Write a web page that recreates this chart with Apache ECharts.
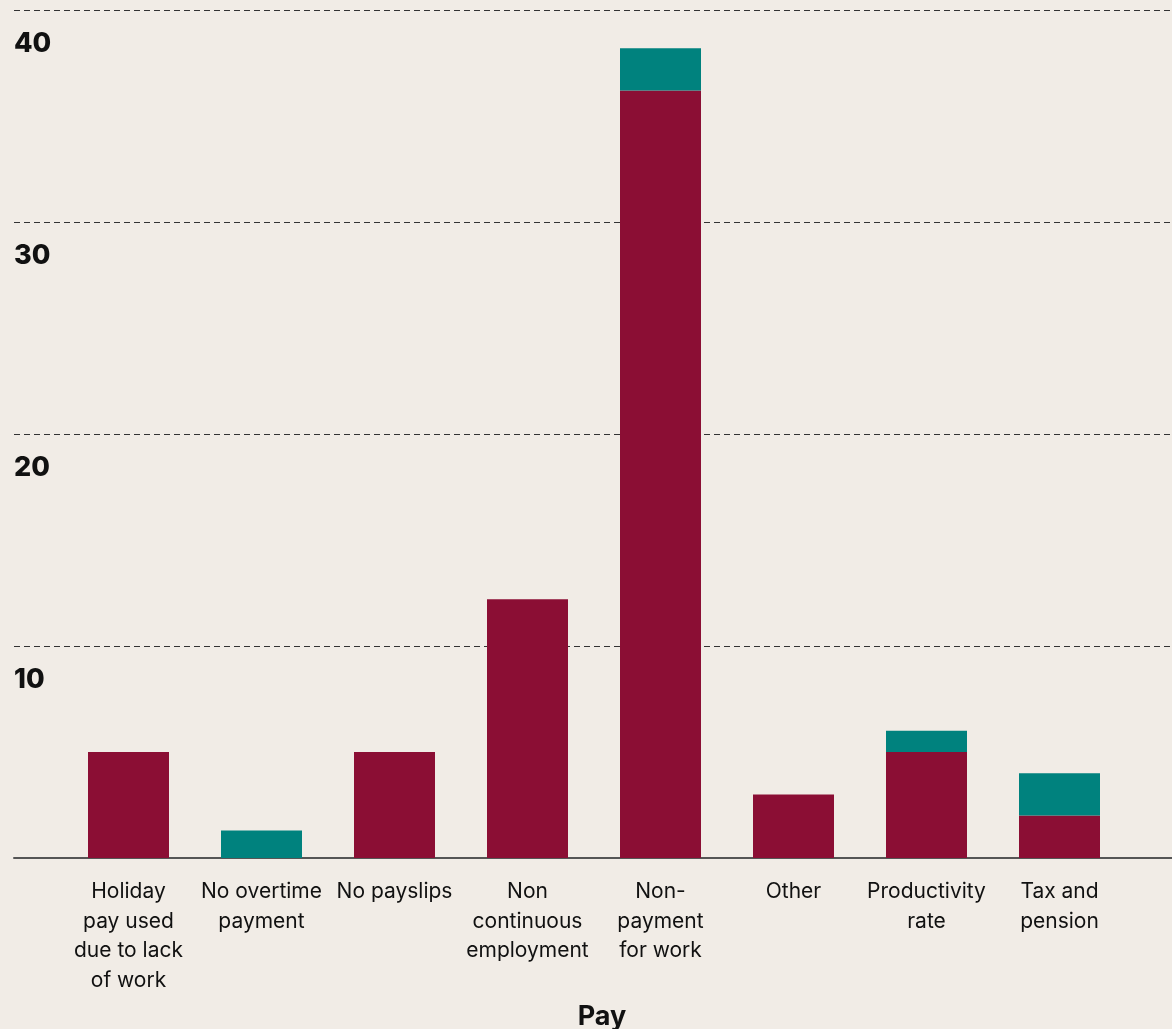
<!DOCTYPE html>
<html>
<head>
<meta charset="utf-8">
<script src="https://cdn.jsdelivr.net/npm/echarts@6/dist/echarts.min.js"></script>
<style>
html,body{margin:0;padding:0;background:#f1ece6;}
#chart{width:1172px;height:1029px;}
</style>
</head>
<body>
<div id="chart"></div>
<script>
var categories = [
  'Holiday\npay used\ndue to lack\nof work',
  'No overtime\npayment',
  'No payslips',
  'Non\ncontinuous\nemployment',
  'Non-\npayment\nfor work',
  'Other',
  'Productivity\nrate',
  'Tax and\npension'
];
var seriesRed = [5.0, 0, 5.0, 12.2, 36.2, 3.0, 5.0, 2.0];
var seriesTeal = [0, 1.3, 0, 0, 2.0, 0, 1.0, 2.0];
var yTicks = [0, 10, 20, 30, 40];
var axisTitle = 'Pay';

var FONT = 'Inter, Roboto, sans-serif';
var chart = echarts.init(document.getElementById('chart'));
chart.setOption({
  backgroundColor: '#f1ece6',
  animation: false,
  grid: [
    {left: 62, right: 46, top: 10, bottom: 171, outerBoundsMode: 'none', containLabel: false},
    {left: 14, right: 0, top: 10, bottom: 171, outerBoundsMode: 'none', containLabel: false}
  ],
  xAxis: [
    {
      type: 'category', gridIndex: 0, data: categories,
      axisLine: {show: false}, axisTick: {show: false},
      axisLabel: {interval: 0, fontSize: 21, lineHeight: 29.5, color: '#111', margin: 19, fontFamily: FONT},
      name: axisTitle, nameLocation: 'middle', nameGap: 145,
      nameTextStyle: {fontSize: 27, fontWeight: 'bold', color: '#111', fontFamily: FONT, padding: [0, 0, 0, 16]}
    },
    {
      type: 'value', gridIndex: 1, min: 0, max: 1,
      axisLine: {show: true, lineStyle: {color: '#555', width: 2}},
      axisTick: {show: false}, axisLabel: {show: false}, splitLine: {show: false}
    }
  ],
  yAxis: [
    {type: 'value', gridIndex: 0, min: yTicks[0], max: yTicks[yTicks.length - 1], interval: 10, show: false},
    {
      type: 'value', gridIndex: 1, min: yTicks[0], max: yTicks[yTicks.length - 1], interval: 10,
      axisLine: {show: false}, axisTick: {show: false},
      splitLine: {show: true, lineStyle: {type: [6, 4], color: '#333', width: 1}},
      axisLabel: {
        inside: true, margin: 0, align: 'left', verticalAlign: 'top',
        fontSize: 27, fontWeight: 800, color: '#111', fontFamily: FONT,
        lineHeight: 28, padding: [20, 0, 0, 0],
        formatter: function (v) { return v === 0 ? '' : String(v); }
      }
    }
  ],
  series: [
    {type: 'bar', stack: 'a', xAxisIndex: 0, yAxisIndex: 0, barWidth: 81, data: seriesRed, itemStyle: {color: '#8b0e34'}},
    {type: 'bar', stack: 'a', xAxisIndex: 0, yAxisIndex: 0, barWidth: 81, data: seriesTeal, itemStyle: {color: '#00827e'}}
  ]
});
</script>
</body>
</html>
